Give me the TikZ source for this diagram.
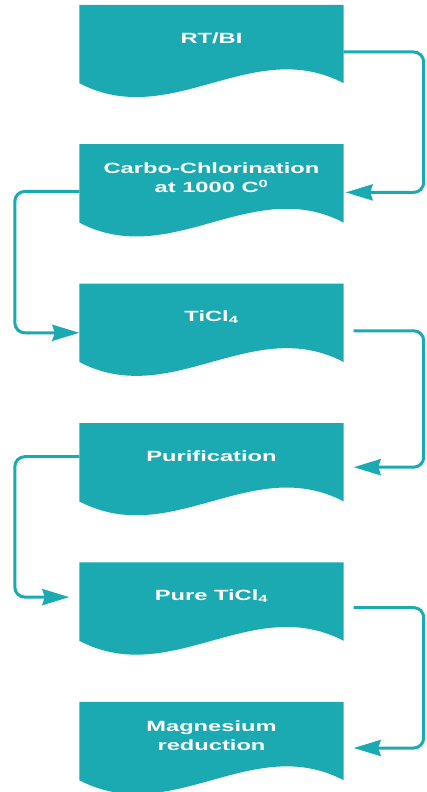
\documentclass[tikz,border=0pt]{standalone}
\usepackage{fontspec}
\setmainfont{Liberation Sans}
\newfontfamily\boxfont[FakeStretch=1.6]{Liberation Sans}
\usetikzlibrary{arrows.meta, positioning, backgrounds}
\definecolor{processteal}{RGB}{27,170,178}

\begin{document}
\begin{tikzpicture}[
    node distance=72pt,
    every node/.style={font=\boxfont\bfseries\fontsize{14.8}{19}\selectfont},
    process/.style={rectangle, minimum width=264pt, minimum height=67pt, inner sep=0pt,
                    align=center, text=white},
    arrow/.style={-{Stealth[length=27pt, width=16pt, inset=2.5pt]}, line width=3pt,
                  draw=processteal, rounded corners=10pt}
]
\useasboundingbox (0,0) rectangle (426pt,-792pt);

% Process steps
\node (rtbi) [process] at (211.5pt,-38.5pt) {RT/BI};
\node (carbo) [process, below=of rtbi] {Carbo-Chlorination\\at 1000 C\textsuperscript{0}};
\node (ticl) [process, below=of carbo] {TiCl\textsubscript{4}};
\node (purif) [process, below=of ticl] {Purification};
\node (pure) [process, below=of purif] {Pure TiCl\textsubscript{4}};
\node (magred) [process, below=of pure] {Magnesium\\reduction};

% Wavy document bodies
\begin{scope}[on background layer]
  \foreach \n in {rtbi, carbo, ticl, purif, pure, magred}
    \fill [processteal] (\n.north west) -- ([yshift=-11pt]\n.south west)
      .. controls +(92pt,-48pt) and +(-92pt,48pt) .. ([yshift=-11pt]\n.south east)
      -- (\n.north east) -- cycle;
\end{scope}

% Arrows
\draw [arrow] ([yshift=-13.5pt]rtbi.east) -- ++(80pt,0) |- ([xshift=2pt,yshift=-14.5pt]carbo.east);
\draw [arrow] ([yshift=-13.5pt]carbo.west) -- ++(-64.5pt,0) |- ([yshift=-15.5pt]ticl.west);
\draw [arrow] ([xshift=10pt,yshift=-13.5pt]ticl.east) -- ++(70pt,0) |- ([xshift=10pt,yshift=-10.5pt]purif.east);
\draw [arrow] (purif.west) -- ++(-64.5pt,0) |- ([xshift=-10pt,yshift=-1pt]pure.west);
\draw [arrow] ([xshift=10pt,yshift=-11.5pt]pure.east) -- ++(70pt,0) |- ([xshift=10pt,yshift=-12.5pt]magred.east);

\end{tikzpicture}
\end{document}
